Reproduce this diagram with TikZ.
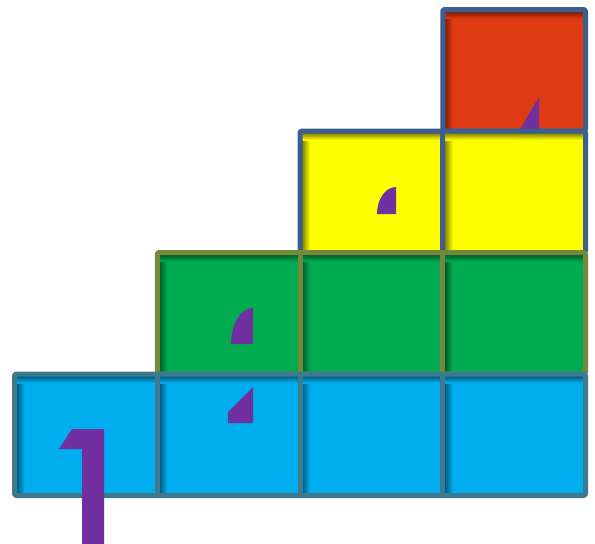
\documentclass[tikz,border=0pt]{standalone}
\usetikzlibrary{calc}
\definecolor{cblue}{HTML}{00AEEF}
\definecolor{cgreen}{HTML}{00AC4F}
\definecolor{cyellow}{HTML}{FFFF00}
\definecolor{cred}{HTML}{E03A12}
\definecolor{bblue}{HTML}{3D7A8D}
\definecolor{bgreen}{HTML}{76883E}
\definecolor{bnavy}{HTML}{3C5F8F}
\definecolor{purp}{HTML}{7030A0}
\newcommand\cellbox[5]{%
  \fill[#5] (#1,#2) rectangle (#3,#4);
  \shade[left color=#5!55!black, right color=#5] ({#1+2.5},{#2+2.5}) rectangle ({#1+10},#4);
  \shade[top color=#5!55!black, bottom color=#5] ({#1+2.5},{#2+2.5}) rectangle (#3,{#2+9});
}
\tikzset{rowborder/.style={line width=5pt, rounded corners=2pt, line join=round},
  cellline/.style={line width=5pt},
  purpshape/.style={fill=purp}}
\begin{document}
\begin{tikzpicture}[x=1pt,y=-1pt]
\useasboundingbox (0,0) rectangle (595,544);
% red row
\cellbox{442.75}{9.5}{585.5}{131}{cred}
\draw[rowborder, bnavy] (442.75,9.5) rectangle (585.5,131);
\fill[purpshape] (519,131) -- (539,97) -- (539,131) -- cycle;
% yellow row
\foreach \a/\b in {300/442.75, 442.75/585.5} {\cellbox{\a}{131}{\b}{252.5}{cyellow}}
\draw[rowborder, bnavy] (300,131) rectangle (585.5,252.5);
\draw[cellline, bnavy] (442.75,131) -- (442.75,252.5);
\fill[purpshape] (396,214) -- (377,214) arc[start angle=180, end angle=270, x radius=19, y radius=27] -- cycle;
% green row
\foreach \a/\b in {157.25/300, 300/442.75, 442.75/585.5} {\cellbox{\a}{252.5}{\b}{374}{cgreen}}
\draw[rowborder, bgreen] (157.25,252.5) rectangle (585.5,374);
\draw[cellline, bgreen] (300,252.5) -- (300,374) (442.75,252.5) -- (442.75,374);
\fill[purpshape] (253,344) -- (231,344) arc[start angle=180, end angle=270, x radius=22, y radius=36] -- cycle;
% blue row
\foreach \a/\b in {14.5/157.25, 157.25/300, 300/442.75, 442.75/585.5} {\cellbox{\a}{374}{\b}{495.5}{cblue}}
\draw[rowborder, bblue] (14.5,374) rectangle (585.5,495.5);
\draw[cellline, bblue] (157.25,374) -- (157.25,495.5) (300,374) -- (300,495.5) (442.75,374) -- (442.75,495.5);
\fill[purpshape] (228,423) -- (253,423) -- (253,387) -- (228,412) -- cycle;
% the one
\fill[purpshape] (72,429) -- (104,429) -- (104,545) -- (82,545) -- (82,449) -- (59,449) -- cycle;
\end{tikzpicture}
\end{document}
